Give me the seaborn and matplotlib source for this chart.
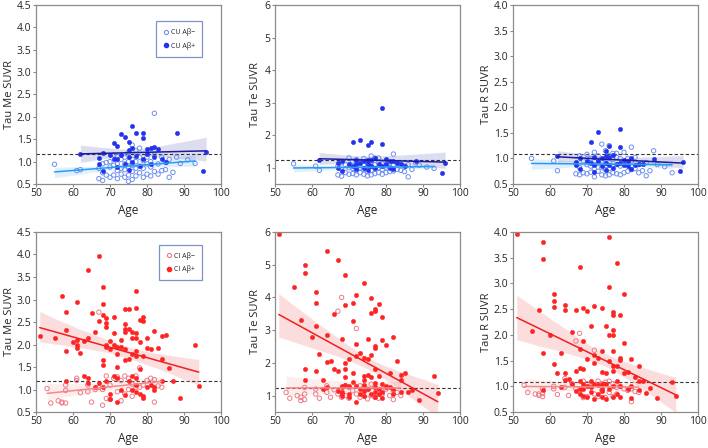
import matplotlib
matplotlib.use("Agg")
import matplotlib.pyplot as plt
import seaborn as sns
import numpy as np
import pandas as pd
from matplotlib.lines import Line2D
from matplotlib.ticker import FormatStrFormatter

sns.set_style("white")
plt.rcParams['font.family'] = ['Open Sans', 'DejaVu Sans']

# ---------------- DATA ----------------
cu_neg_age = [55, 61, 62, 67, 67, 68, 68, 68, 69, 69, 70, 70, 70, 71, 71, 71,
              72, 72, 72, 72, 73, 73, 73, 74, 74, 74, 74, 75, 75, 75, 75, 75,
              76, 76, 76, 76, 76, 77, 77, 77, 77, 78, 78, 78, 79, 79, 79,
              80, 80, 80, 81, 81, 81, 82, 82, 82, 83, 83, 84, 84, 85, 85,
              86, 86, 87, 88, 89, 91, 93, 78]
cu_neg_me = [0.94, 0.80, 0.82, 0.62, 0.85, 0.58, 0.75, 0.95, 0.70, 0.98, 0.65, 0.88, 1.00,
             0.70, 0.92, 1.15, 0.62, 0.80, 0.95, 1.12, 0.72, 0.85, 1.05, 0.65, 0.82, 0.95, 1.10,
             0.56, 0.70, 0.88, 1.00, 1.20, 0.60, 0.78, 0.92, 1.05, 1.37, 0.68, 0.85, 1.00, 1.25,
             0.75, 0.90, 1.10, 0.65, 0.85, 1.02, 0.72, 0.95, 1.10, 0.68, 0.88, 1.00,
             0.78, 1.15, 2.08, 0.72, 0.95, 0.80, 1.10, 0.82, 0.98, 0.65, 1.05,
             0.76, 1.10, 0.96, 1.04, 0.96, 1.30]
cu_neg_te = [1.12, 1.05, 0.92, 0.78, 1.05, 0.74, 0.95, 1.15, 0.85, 1.10, 0.80, 1.00, 1.30,
             0.82, 0.98, 1.20, 0.78, 0.92, 1.05, 1.25, 0.85, 1.00, 1.15, 0.80, 0.95, 1.10, 1.28,
             0.75, 0.88, 1.00, 1.12, 1.22, 0.78, 0.92, 1.05, 1.18, 1.36, 0.82, 0.98, 1.10, 1.30,
             0.85, 1.00, 1.15, 0.80, 0.95, 1.12, 0.85, 1.02, 1.20, 0.88, 1.00, 1.15,
             0.90, 1.10, 1.42, 0.95, 1.15, 0.92, 1.10, 0.88, 1.05, 0.72, 1.10,
             0.95, 1.15, 1.08, 1.02, 0.98, 1.30]
cu_neg_r = [1.00, 0.95, 0.76, 0.70, 0.90, 0.68, 0.82, 1.05, 0.72, 0.95, 0.70, 0.88, 1.08,
            0.73, 0.85, 1.00, 0.64, 0.80, 0.95, 1.12, 0.75, 0.90, 1.05, 0.68, 0.82, 0.95, 1.28,
            0.66, 0.78, 0.90, 1.00, 1.15, 0.68, 0.80, 0.92, 1.05, 1.25, 0.72, 0.85, 0.98, 1.10,
            0.70, 0.88, 1.02, 0.68, 0.85, 1.00, 0.72, 0.90, 1.12, 0.75, 0.88, 1.00,
            0.78, 0.95, 1.22, 0.80, 1.02, 0.72, 0.88, 0.76, 0.90, 0.66, 0.92,
            0.76, 1.15, 0.88, 0.84, 0.72, 1.10]

cu_pos_age = [62, 67, 67, 68, 68, 70, 71, 71, 72, 72, 72, 73, 73, 74, 74,
              75, 75, 75, 75, 76, 76, 76, 77, 77, 78, 79, 79, 79, 80, 80,
              81, 81, 82, 82, 83, 84, 85, 88, 95, 96]
cu_pos_me = [1.18, 0.95, 1.08, 0.78, 1.20, 1.15, 1.42, 1.05, 1.36, 1.05, 0.88, 1.62, 1.15,
             1.55, 0.95, 1.44, 1.25, 0.82, 1.10, 1.79, 1.30, 1.00, 1.63, 1.12, 0.90,
             1.65, 1.53, 1.05, 1.28, 1.18, 1.30, 0.95, 1.33, 1.10, 1.28, 1.05, 1.00,
             1.65, 0.79, 1.22]
cu_pos_te = [1.25, 1.00, 1.15, 0.90, 1.20, 1.10, 1.80, 1.05, 1.25, 1.10, 0.95, 1.85, 1.15,
             1.20, 1.00, 1.70, 1.25, 0.92, 1.10, 1.80, 1.25, 1.05, 1.30, 1.00, 1.10,
             2.82, 1.72, 1.05, 1.28, 1.10, 1.20, 0.98, 1.22, 0.95, 1.15, 1.12, 1.05,
             1.20, 0.85, 1.15]
cu_pos_r = [1.04, 0.93, 0.88, 0.80, 1.00, 0.95, 1.33, 0.92, 1.02, 0.88, 0.73, 1.52, 0.95,
            1.00, 0.85, 1.15, 1.05, 0.78, 0.92, 1.24, 1.02, 0.88, 1.07, 0.82, 0.90,
            1.57, 1.22, 0.92, 0.96, 0.88, 0.95, 0.85, 1.00, 0.80, 0.88, 0.90, 0.90,
            0.99, 0.75, 0.93]

ci_neg_age = [53, 54, 56, 57, 57, 58, 58, 58, 61, 61, 62, 64, 64, 65, 66, 67, 67,
              68, 68, 69, 69, 70, 70, 71, 72, 72, 73, 73, 74, 74, 75, 75, 76, 76,
              77, 77, 78, 78, 79, 80, 81, 82, 82, 83, 84]
ci_neg_me = [1.02, 0.70, 0.75, 0.72, 0.70, 1.10, 0.98, 0.70, 1.25, 1.20, 0.93, 0.95, 1.10,
             0.72, 1.00, 2.72, 1.05, 0.65, 1.00, 1.30, 0.80, 1.10, 0.78, 1.25, 0.95, 1.28,
             1.20, 0.75, 1.30, 0.90, 1.25, 1.00, 1.12, 0.85, 1.30, 1.05, 1.48, 1.05,
             1.10, 1.20, 1.25, 0.72, 1.22, 1.08, 1.05]
ci_neg_te = [1.10, 0.92, 1.00, 0.95, 0.85, 1.25, 1.05, 0.88, 1.20, 1.05, 0.92, 1.10, 1.30,
             0.95, 1.18, 3.58, 1.05, 4.00, 0.95, 1.30, 1.00, 1.25, 0.92, 1.15, 3.05, 1.05,
             1.30, 0.95, 1.25, 1.00, 1.20, 0.90, 1.35, 1.00, 1.25, 0.95, 1.10, 0.92,
             1.05, 1.20, 1.00, 0.88, 1.15, 1.10, 1.00]
ci_neg_r = [1.02, 0.88, 0.85, 0.82, 0.85, 0.95, 0.80, 0.86, 1.00, 0.95, 0.84, 1.15, 0.98,
            0.82, 1.05, 1.88, 0.95, 2.03, 0.90, 1.10, 0.78, 1.05, 0.80, 1.00, 1.70, 0.85,
            1.10, 0.80, 1.05, 0.92, 1.08, 0.78, 1.10, 0.88, 1.05, 0.80, 0.98, 0.85,
            1.00, 0.95, 0.92, 0.70, 0.95, 0.90, 0.88]

ci_pos_age = [51, 55, 57, 58, 58, 58, 58, 60, 61, 61, 61, 61, 62, 63, 63,
              64, 64, 64, 64, 65, 66, 66, 67, 67, 67,
              68, 68, 68, 68, 68, 68, 69, 69, 69, 69, 69, 69,
              70, 70, 70, 70, 71, 71, 71, 71, 72, 72, 72, 72, 72,
              73, 73, 73, 74, 74, 74, 74, 74, 74, 74, 75, 75, 75, 75,
              76, 76, 76, 76, 76, 77, 77, 77, 77, 77, 77, 77, 77, 77,
              78, 78, 78, 78, 79, 79, 79, 79, 79, 80, 80, 80, 81, 81,
              82, 82, 82, 83, 84, 84, 84, 85, 86, 87, 89, 93, 94]
ci_pos_me = [2.18, 2.15, 3.08, 2.72, 2.32, 1.85, 1.20, 2.05, 2.95, 2.10, 2.00, 1.92, 1.82,
             2.08, 1.30, 3.65, 2.15, 1.25, 1.15, 2.70, 2.28, 1.05, 3.97, 2.52, 1.15,
             3.28, 2.90, 2.65, 1.65, 1.55, 1.05, 2.60, 2.48, 2.38, 2.00, 1.95, 1.20,
             2.08, 1.90, 0.90, 0.78, 2.62, 2.25, 2.00, 1.30, 1.95, 1.80, 1.50, 1.25, 0.72,
             2.10, 1.95, 1.00, 2.80, 2.45, 2.35, 2.28, 1.90, 1.65, 0.88, 2.78, 2.35, 1.68, 1.20,
             2.28, 2.15, 1.80, 1.30, 1.00, 3.20, 2.82, 2.25, 2.15, 1.85, 1.75, 1.25, 1.10, 0.95,
             2.55, 2.05, 1.45, 0.90, 2.62, 2.52, 1.75, 0.85, 0.82, 2.15, 1.92, 1.05, 1.90, 1.10,
             2.30, 1.05, 0.98, 1.92, 2.18, 1.68, 1.20, 2.22, 1.48, 1.18, 0.82, 1.98, 1.08]
ci_pos_te = [5.94, 4.31, 3.31, 4.98, 4.76, 1.80, 1.49, 2.79, 4.18, 3.82, 3.13, 1.74, 2.26,
             1.49, 1.20, 5.41, 2.85, 2.04, 1.25, 2.07, 3.49, 1.82, 5.15, 1.76, 1.15,
             2.74, 1.30, 1.25, 1.10, 1.05, 1.00, 4.69, 3.78, 2.00, 1.80, 1.57, 1.31,
             2.12, 1.30, 1.05, 0.95, 3.82, 3.27, 1.68, 1.43, 4.07, 2.57, 2.20, 1.29, 0.80,
             2.31, 1.20, 1.05, 4.44, 2.16, 1.61, 1.49, 1.34, 1.15, 1.00, 2.72, 2.13, 1.64, 1.20,
             3.97, 3.52, 2.25, 1.57, 1.05, 3.66, 3.60, 2.52, 2.45, 1.80, 1.40, 1.25, 1.10, 0.95,
             3.79, 1.61, 1.20, 1.05, 3.39, 2.70, 1.35, 1.10, 0.92, 2.56, 1.25, 1.30, 1.70, 1.25,
             2.80, 1.20, 1.05, 2.06, 1.64, 1.49, 1.12, 1.68, 1.10, 1.18, 0.88, 1.61, 1.08]
ci_pos_r = [3.96, 2.07, 2.49, 3.80, 3.47, 1.64, 0.92, 1.99, 2.80, 2.66, 2.54, 1.43, 1.25,
            1.64, 0.98, 2.59, 2.49, 1.25, 1.12, 1.15, 2.05, 1.05, 2.49, 1.30, 0.90,
            3.31, 1.73, 1.35, 1.10, 0.95, 0.85, 2.53, 1.88, 1.34, 1.05, 0.95, 0.82,
            2.47, 1.53, 1.00, 0.80, 2.18, 1.10, 0.98, 0.88, 2.56, 1.60, 1.45, 1.05, 0.75,
            1.55, 1.02, 0.85, 2.52, 1.68, 1.28, 1.05, 0.95, 0.90, 0.80, 2.18, 1.25, 1.05, 0.75,
            3.91, 2.94, 1.99, 1.50, 0.95, 2.45, 2.39, 2.10, 1.99, 1.69, 1.40, 1.30, 1.00, 0.80,
            3.39, 1.40, 1.10, 0.85, 2.38, 1.55, 1.52, 1.00, 0.80, 2.79, 1.84, 1.25, 1.28, 0.95,
            1.53, 1.00, 0.78, 1.19, 1.40, 1.11, 0.92, 1.10, 0.86, 0.96, 0.77, 1.09, 0.82]

regions = ["Me", "Te", "R"]
y_labels = ["Tau Me SUVR", "Tau Te SUVR", "Tau R SUVR"]
thresholds = [1.18, 1.23, 1.08]
y_limits = [(0.5, 4.5), (0.5, 6.0), (0.5, 4.0)]
y_ticks = [[0.5, 1.0, 1.5, 2.0, 2.5, 3.0, 3.5, 4.0, 4.5],
           [1, 2, 3, 4, 5, 6],
           [0.5, 1.0, 1.5, 2.0, 2.5, 3.0, 3.5, 4.0]]
x_ticks = [50, 60, 70, 80, 90, 100]
legend_top = ["CU Aβ−", "CU Aβ+"]
legend_bot = ["CI Aβ−", "CI Aβ+"]

# ---------------- STYLE ----------------
C_CUN_PT, C_CUN_LN = "#6f8ff2", "#2a9bf0"
C_CUP_PT, C_CUP_LN = "#2233ee", "#1c1c9c"
C_CIN_PT, C_CIN_LN = "#f07a88", "#f28a8a"
C_CIP_PT, C_CIP_LN = "#ff2424", "#f02020"

fig = plt.figure(figsize=(7.08, 4.48), dpi=100)
lefts = [36 / 708, 275 / 708, 513 / 708]
w = 185 / 708
rows = [(264 / 448, 179 / 448), (36 / 448, 180 / 448)]
label_x = [[-0.112, -0.074, -0.112], [-0.112, -0.074, -0.112]]
legend_anchor = [(0.895, 0.91), (0.895, 0.93)]

groups_top = [
    (cu_neg_age, [cu_neg_me, cu_neg_te, cu_neg_r], C_CUN_PT, C_CUN_LN, True),
    (cu_pos_age, [cu_pos_me, cu_pos_te, cu_pos_r], C_CUP_PT, C_CUP_LN, False),
]
groups_bot = [
    (ci_neg_age, [ci_neg_me, ci_neg_te, ci_neg_r], C_CIN_PT, C_CIN_LN, True),
    (ci_pos_age, [ci_pos_me, ci_pos_te, ci_pos_r], C_CIP_PT, C_CIP_LN, False),
]

for r, (groups, leg_labels) in enumerate([(groups_top, legend_top), (groups_bot, legend_bot)]):
    b, h = rows[r]
    for c in range(3):
        ax = fig.add_axes([lefts[c], b, w, h])
        ax.axhline(thresholds[c], color="#333333", ls=(0, (3, 2)), lw=0.8, zorder=1)
        for ages, vals, pc, lc, hollow in groups:
            df = pd.DataFrame({"Age": ages, "SUVR": vals[c]})
            sns.regplot(data=df, x="Age", y="SUVR", ax=ax, scatter=False, ci=95,
                        color=lc, line_kws={"lw": 1.1, "zorder": 3}, truncate=True)
            if hollow:
                sns.scatterplot(data=df, x="Age", y="SUVR", ax=ax, marker="o", s=10,
                                facecolors="none", edgecolor=pc, linewidth=0.7, zorder=2)
            else:
                sns.scatterplot(data=df, x="Age", y="SUVR", ax=ax, marker="o", s=10,
                                color=pc, edgecolor=pc, linewidth=0.3, zorder=2)
        ax.set_xlim(50, 100)
        ax.set_ylim(*y_limits[c])
        ax.set_xticks(x_ticks)
        ax.set_yticks(y_ticks[c])
        if c != 1:
            ax.yaxis.set_major_formatter(FormatStrFormatter("%.1f"))
        ax.set_xlabel("Age", fontsize=8.5, labelpad=3)
        ax.set_ylabel(y_labels[c], fontsize=8)
        ax.yaxis.set_label_coords(label_x[r][c], 0.5)
        ax.tick_params(axis="both", labelsize=7.5, length=2, width=0.8,
                       color="#888888", direction="out", pad=1.2, bottom=True, left=True)
        for s in ax.spines.values():
            s.set_color("#8c8c8c")
            s.set_linewidth(0.9)
        if c == 0:
            handles = [
                Line2D([], [], ls="none", marker="o", ms=3.0, mfc="none",
                       mec=groups[0][2], mew=0.8),
                Line2D([], [], ls="none", marker="o", ms=3.0, mfc=groups[1][2],
                       mec=groups[1][2]),
            ]
            leg = ax.legend(handles, leg_labels, loc="upper right",
                            bbox_to_anchor=legend_anchor[r], fontsize=5, frameon=True,
                            fancybox=False, handletextpad=0.3, borderpad=1.0,
                            handlelength=0.8, labelspacing=0.8, borderaxespad=0)
            leg.get_frame().set_edgecolor("#5b7bb5")
            leg.get_frame().set_linewidth(0.9)

fig.savefig("out.png", dpi=100)
